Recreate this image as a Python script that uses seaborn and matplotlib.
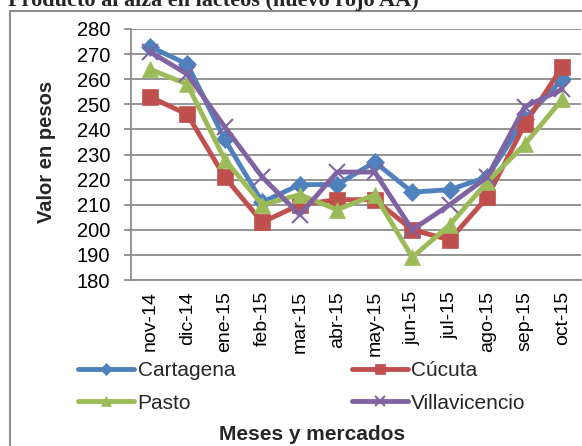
import pandas as pd
import matplotlib.pyplot as plt
import seaborn as sns
from matplotlib.patches import Rectangle

# data
meses = ["nov-14", "dic-14", "ene-15", "feb-15", "mar-15", "abr-15",
         "may-15", "jun-15", "jul-15", "ago-15", "sep-15", "oct-15"]
cartagena = [273, 266, 236, 211, 218, 218, 227, 215, 216, 221, 244, 260]
cucuta = [253, 246, 221, 203, 210, 212, 212, 200, 196, 213, 242, 265]
pasto = [264, 258, 228, 210, 214, 208, 214, 189, 202, 219, 234, 252]
villavicencio = [271, 262, 241, 221, 206, 223, 223, 200, 210, 221, 249, 256]

mercados = ["Cartagena", "Cúcuta", "Pasto", "Villavicencio"]
colores = ["#4F81BD", "#C0504D", "#9BBB59", "#8064A2"]
marcadores = ["D", "s", "^", "x"]
tamanos = [9, 12, 12, 11]

df = pd.DataFrame({
    "mes": meses * 4,
    "valor": cartagena + cucuta + pasto + villavicencio,
    "mercado": [m for m in mercados for _ in meses],
})

sns.set_theme(style="white")
plt.rcParams["font.family"] = ["Liberation Sans", "DejaVu Sans"]

fig = plt.figure(figsize=(5.82, 4.46), dpi=100)
ax = fig.add_axes([131 / 582, 1 - 280 / 446, 450 / 582, 251 / 446])

for mercado, color, marker, ms in zip(mercados, colores, marcadores, tamanos):
    sns.lineplot(
        data=df[df["mercado"] == mercado],
        x="mes",
        y="valor",
        color=color,
        marker=marker,
        markersize=ms,
        markeredgecolor=color,
        markeredgewidth=1.5 if marker == "x" else 0.5,
        linewidth=3.5,
        label=mercado,
        ax=ax,
        legend=False,
    )

ax.set_xlim(-0.5, len(meses) - 0.5)
ax.set_ylim(180, 280)
ax.set_yticks(range(180, 281, 10))
ax.yaxis.grid(True, color="#8C8C8C", linewidth=1.3)
ax.set_axisbelow(True)
for s in ["top", "right"]:
    ax.spines[s].set_visible(False)
for s in ["left", "bottom"]:
    ax.spines[s].set_color("#8C8C8C")
    ax.spines[s].set_linewidth(1.3)

ax.tick_params(axis="y", labelsize=14.5, length=5, width=1.3, color="#8C8C8C",
               left=True, pad=10, labelcolor="black")
ax.tick_params(axis="x", labelsize=14, length=0, pad=8, labelcolor="black")
plt.setp(ax.get_xticklabels(), rotation=90)
ax.set_xlabel("")
ax.set_ylabel("")

fig.text(46 / 582, 1 - 152 / 446, "Valor en pesos", rotation=90,
         ha="center", va="center", fontsize=14.5, fontweight="bold")
fig.text(312 / 582, 1 - 435 / 446, "Meses y mercados",
         ha="center", va="center", fontsize=15, fontweight="bold")

# cropped title at the very top
fig.text(8 / 582, 1 - 6 / 446, "Producto al alza en lácteos (nuevo rojo AA)",
         ha="left", va="baseline", fontsize=16, fontweight="bold",
         family=["Liberation Serif", "DejaVu Serif"])

# outer chart frame
fig.add_artist(Rectangle((10 / 582, -0.2), 1.5, 1.2 - 11 / 446,
                         transform=fig.transFigure, fill=False,
                         edgecolor="#8C8C8C", linewidth=1.5))

# legend filled row by row like the reference
handles, labels = ax.get_legend_handles_labels()
order = [0, 2, 1, 3]
fig.legend([handles[i] for i in order], [labels[i] for i in order],
           ncol=2, loc="center",
           bbox_to_anchor=(302 / 582, 1 - 387 / 446),
           frameon=False, fontsize=15, handlelength=2.7, markerscale=0.65,
           columnspacing=5.6, handletextpad=0.15, labelspacing=0.65)

plt.savefig("out.png", dpi=100)
